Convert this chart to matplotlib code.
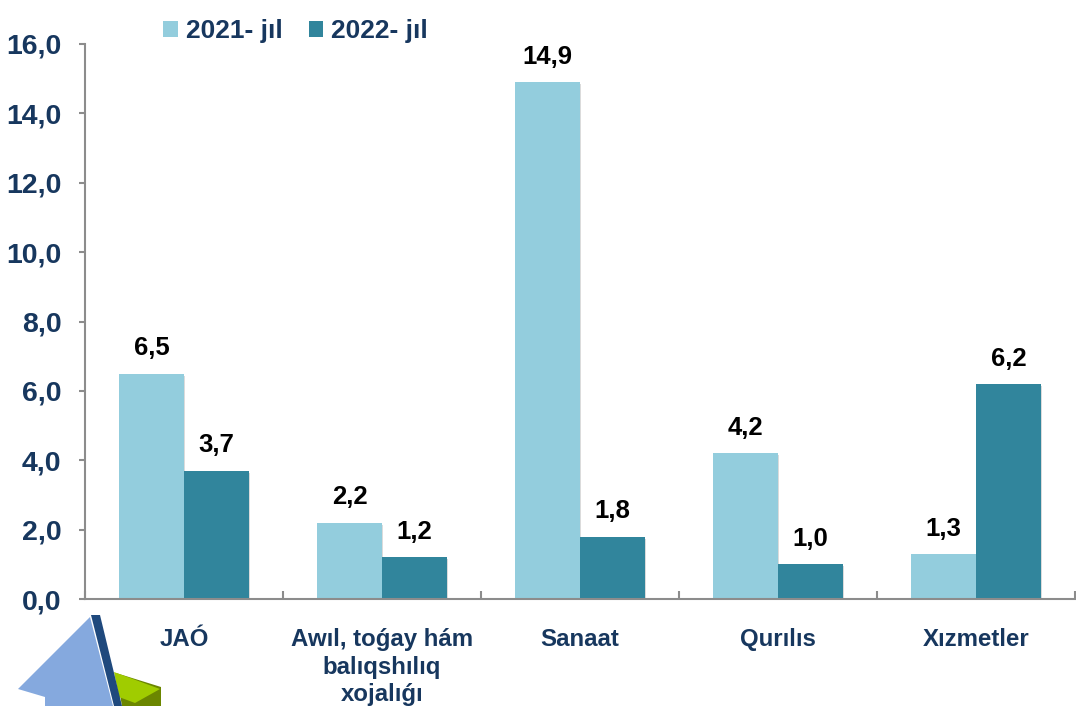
import matplotlib
matplotlib.use("Agg")
import matplotlib.pyplot as plt
import matplotlib.patheffects as pe
from matplotlib.patches import Polygon
import numpy as np

plt.rcParams['font.family'] = ['Liberation Sans', 'DejaVu Sans']
plt.rcParams['font.weight'] = 'bold'

categories = ["JAÓ", "Awıl, toǵay hám\nbalıqshılıq\nxojalıǵı", "Sanaat", "Qurılıs", "Xızmetler"]
series_names = ["2021- jıl", "2022- jıl"]
values_2021 = [6.5, 2.2, 14.9, 4.2, 1.3]
values_2022 = [3.7, 1.2, 1.8, 1.0, 6.2]
yticks = [0, 2, 4, 6, 8, 10, 12, 14, 16]

W, H = 1076, 706
NAVY = '#17375E'
C1 = '#93CDDD'
C2 = '#31859C'
GREY = '#8C8C8C'

fig = plt.figure(figsize=(W / 100, H / 100), dpi=100, facecolor='white')
ax = fig.add_axes([85 / W, 1 - 599 / H, 990 / W, 555 / H])

x = np.arange(len(categories))
bw = 0.328
shadow = [pe.SimplePatchShadow(offset=(1, -1.5), shadow_rgbFace='#999999', alpha=0.35), pe.Normal()]
b1 = ax.bar(x - bw / 2, values_2021, bw, color=C1, label=series_names[0], path_effects=shadow)
b2 = ax.bar(x + bw / 2, values_2022, bw, color=C2, label=series_names[1], path_effects=shadow)

for bars, vals in ((b1, values_2021), (b2, values_2022)):
    for r, v in zip(bars, vals):
        ax.annotate(f"{v:.1f}".replace('.', ','), (r.get_x() + r.get_width() / 2, v),
                    xytext=(0, 9.5), textcoords='offset points', ha='center', va='bottom',
                    fontsize=18.5, fontweight='bold', color='black')

ax.set_xlim(-0.5, 4.5)
ax.set_ylim(0, 16)
ax.set_yticks(yticks)
ax.set_yticklabels([f"{v:.1f}".replace('.', ',') for v in yticks], fontsize=20.5, fontweight='bold', color=NAVY)
ax.set_xticks(np.arange(-0.5, 5, 1))
ax.set_xticklabels([])
ax.tick_params(axis='y', direction='out', length=4, width=1.5, color=GREY, pad=13)
ax.tick_params(axis='x', direction='in', length=6, width=1.5, color=GREY)
for s in ('top', 'right'):
    ax.spines[s].set_visible(False)
for s in ('left', 'bottom'):
    ax.spines[s].set_color(GREY)
    ax.spines[s].set_linewidth(1.5)

for xi, c in zip(x, categories):
    ax.annotate(c, (xi, 0), xytext=(0, -21), textcoords='offset points', ha='center', va='top',
                fontsize=17.3, fontweight='bold', color=NAVY, linespacing=1.25, annotation_clip=False)

leg = fig.legend(handles=[b1, b2], loc='upper left', bbox_to_anchor=(142 / W, 1 + 2 / H), ncol=2, frameon=False,
                 handlelength=0.55, handleheight=0.55, handletextpad=0.3, columnspacing=1.0,
                 borderpad=0.3, labelcolor=NAVY, prop={'size': 19, 'weight': 'bold'})
for h in leg.legend_handles:
    h.set_path_effects([])

def px(points):
    return [(a / W, 1 - b / H) for a, b in points]

deco = fig.add_axes([0, 0, 1, 1], facecolor='none')
deco.set_axis_off()
deco.set_xlim(0, 1); deco.set_ylim(0, 1)
deco.add_patch(Polygon(px([(116, 673), (161, 687), (161, 706), (122, 706)]), fc='#6B8600', ec='none'))
deco.add_patch(Polygon(px([(114, 672), (160, 689), (135, 703), (119, 697)]), fc='#A0CC00', ec='none'))
deco.add_patch(Polygon(px([(90, 617), (18, 689), (45, 697), (45, 706), (113, 706)]), fc='#85A9DE', ec='none'))
deco.add_patch(Polygon(px([(91, 615), (100, 615), (122, 706), (114, 706)]), fc='#1F497D', ec='none'))

fig.savefig("out.png", dpi=100, facecolor='white')
